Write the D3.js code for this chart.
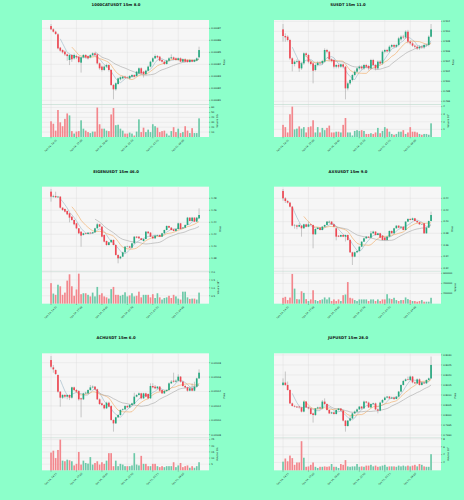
<!DOCTYPE html>
<html>
<head>
<meta charset="utf-8">
<script src="https://cdn.jsdelivr.net/npm/d3@7"></script>
<style>
  body { margin: 0; background: #8cffca; }
  svg { display: block; font-family: "DejaVu Sans", sans-serif; }
</style>
</head>
<body>
<script>
// ---- data ----
var titles = ["1000CATUSDT 15m 8.0", "SUSDT 15m 11.0", "EIGENUSDT 15m 46.0",
              "AXSUSDT 15m 9.0", "ACHUSDT 15m 6.0", "JUPUSDT 15m 28.0"];
var xTickIndex = [0, 11, 22, 33, 44, 55];
var xTickLabels = ["Feb 14, 14:15", "Feb 14, 17:00", "Feb 14, 19:45",
                   "Feb 14, 22:30", "Feb 15, 01:15", "Feb 15, 04:00"];
var maWindows = [5, 10, 20];

// candles are [open, high, low, close]
var catCandles = [
  [0.0008719,0.0008736,0.0008685,0.0008692],[0.0008692,0.00087,0.0008665,0.0008672],[0.0008672,0.000868,0.0008645,0.0008653],
  [0.000865,0.000866,0.0008525,0.0008533],[0.0008539,0.0008545,0.0008505,0.0008514],[0.0008519,0.0008525,0.000849,0.00085],
  [0.0008506,0.0008515,0.000847,0.0008483],[0.0008483,0.000849,0.000843,0.0008469],[0.0008436,0.0008485,0.0008394,0.0008478],
  [0.0008478,0.0008485,0.000842,0.0008442],[0.000845,0.000849,0.000844,0.0008478],[0.0008469,0.000848,0.0008445,0.0008458],
  [0.0008464,0.000847,0.000841,0.0008419],[0.0008414,0.0008465,0.0008331,0.0008458],[0.0008458,0.0008485,0.000845,0.0008478],
  [0.0008478,0.0008485,0.000845,0.0008458],[0.0008469,0.0008475,0.000844,0.000845],[0.0008458,0.0008485,0.000845,0.0008478],
  [0.0008478,0.00085,0.000847,0.0008492],[0.0008492,0.00085,0.000847,0.0008478],[0.0008483,0.000849,0.00084,0.0008408],
  [0.0008408,0.0008415,0.0008355,0.0008367],[0.0008381,0.000839,0.000834,0.0008353],[0.0008353,0.000839,0.0008345,0.0008381],
  [0.0008381,0.0008405,0.000837,0.0008394],[0.0008394,0.00084,0.000834,0.0008353],[0.0008353,0.000836,0.000822,0.0008228],
  [0.0008228,0.0008235,0.0008108,0.0008192],[0.0008192,0.000825,0.000818,0.0008242],[0.0008236,0.000829,0.000823,0.0008283],
  [0.0008275,0.00083,0.0008265,0.0008292],[0.0008283,0.0008305,0.0008275,0.0008297],[0.0008297,0.0008305,0.000828,0.0008289],
  [0.0008292,0.00083,0.000828,0.0008289],[0.0008283,0.000831,0.0008275,0.0008303],[0.0008297,0.000832,0.000829,0.0008311],
  [0.0008311,0.0008318,0.000829,0.0008297],[0.0008303,0.0008345,0.0008295,0.0008339],[0.0008325,0.0008375,0.000832,0.0008367],
  [0.0008367,0.0008375,0.000832,0.0008325],[0.0008339,0.0008345,0.000829,0.0008319],[0.0008319,0.0008355,0.000831,0.0008347],
  [0.0008347,0.000839,0.000834,0.0008381],[0.0008381,0.000843,0.0008375,0.0008422],[0.0008422,0.000846,0.0008415,0.000845],
  [0.000845,0.0008483,0.0008445,0.0008469],[0.0008469,0.0008478,0.000845,0.0008458],[0.0008464,0.000847,0.0008425,0.0008431],
  [0.0008436,0.0008442,0.0008415,0.0008422],[0.0008422,0.000843,0.0008395,0.0008403],[0.0008403,0.0008438,0.0008398,0.0008431],
  [0.0008431,0.000846,0.0008425,0.000845],[0.000845,0.0008483,0.0008445,0.0008458],[0.0008458,0.0008465,0.0008435,0.0008442],
  [0.000845,0.0008458,0.000843,0.0008436],[0.0008436,0.0008458,0.000843,0.000845],[0.000845,0.0008458,0.0008418,0.0008422],
  [0.0008422,0.000845,0.0008418,0.0008442],[0.0008442,0.000845,0.0008418,0.0008422],[0.0008436,0.0008442,0.0008414,0.0008419],
  [0.0008419,0.0008445,0.0008414,0.0008436],[0.0008436,0.0008442,0.0008418,0.0008422],[0.0008422,0.0008442,0.0008418,0.0008436],
  [0.0008431,0.0008458,0.0008425,0.000845],[0.0008458,0.0008547,0.0008455,0.0008519]
];
var catVolume = [32,27,13,55,30,22,37,48,44,12,7,11,12,34,17,13,10,8,11,11,60,26,17,17,13,12,46,59,24,25,
  17,13,7,7,9,7,3,11,36,10,19,10,15,10,26,22,19,10,12,13,7,3,12,20,10,17,8,10,22,13,8,18,8,8,38]; // x 10^6
var catPriceRange = [0.00080653, 0.00087694];
var catPriceTicks = [0.00081, 0.00082, 0.00083, 0.00084, 0.00085, 0.00086, 0.00087];
var catVolRange = [0, 65];
var catVolTicks = [10, 20, 30, 40, 50, 60];

var sCandles = [
  [0.5104,0.51147,0.50793,0.50907],[0.50907,0.5096,0.50793,0.5088],[0.50893,0.5092,0.508,0.50827],[0.50827,0.5085,0.5043,0.5046],
  [0.5046,0.5048,0.502,0.50347],[0.50347,0.5042,0.503,0.50393],[0.50393,0.5044,0.5036,0.50407],[0.50407,0.5043,0.5019,0.5026],
  [0.5026,0.5039,0.5023,0.5036],[0.5036,0.5058,0.5033,0.5056],[0.5056,0.5058,0.5049,0.50527],[0.50527,0.5055,0.5036,0.50393],
  [0.50393,0.5042,0.5032,0.50347],[0.5036,0.5038,0.4996,0.50213],[0.50227,0.5035,0.502,0.50327],[0.50327,0.504,0.503,0.50373],
  [0.50373,0.504,0.5033,0.5036],[0.5036,0.5043,0.5033,0.50407],[0.50393,0.5066,0.5037,0.50627],[0.50627,0.5065,0.5056,0.50593],
  [0.50593,0.5061,0.5041,0.5044],[0.5044,0.5046,0.5038,0.50407],[0.50427,0.5045,0.5026,0.50293],[0.50293,0.5035,0.5026,0.50327],
  [0.50327,0.5035,0.5026,0.50293],[0.50293,0.5036,0.5027,0.5034],[0.5034,0.5036,0.5026,0.50293],[0.50293,0.5031,0.4964,0.4986],
  [0.4986,0.4999,0.4982,0.4996],[0.4996,0.5005,0.4993,0.50027],[0.50027,0.5015,0.5,0.50127],[0.50127,0.5022,0.501,0.50193],
  [0.50193,0.5028,0.5017,0.5026],[0.5026,0.5032,0.5023,0.50293],[0.50293,0.5032,0.5023,0.5026],[0.5026,0.5035,0.5023,0.50327],
  [0.50327,0.5035,0.5026,0.50293],[0.50307,0.5033,0.5022,0.5026],[0.5026,0.5045,0.5023,0.50427],[0.50427,0.5045,0.503,0.50327],
  [0.50327,0.5035,0.5022,0.5026],[0.5026,0.5042,0.5023,0.50393],[0.50393,0.5042,0.5033,0.5036],[0.5036,0.5062,0.5033,0.50593],
  [0.50593,0.5065,0.5056,0.50627],[0.50627,0.5065,0.5057,0.506],[0.506,0.5072,0.5058,0.50693],[0.50693,0.5075,0.5067,0.50727],
  [0.50727,0.5075,0.5067,0.50693],[0.50693,0.5075,0.5067,0.50727],[0.50727,0.5089,0.507,0.5086],[0.5084,0.5092,0.5081,0.50893],
  [0.50893,0.5093,0.5085,0.5088],[0.5088,0.5102,0.5085,0.50993],[0.50993,0.5103,0.5076,0.50793],[0.50793,0.5082,0.5073,0.5076],
  [0.5076,0.5079,0.5069,0.50713],[0.50713,0.5074,0.5066,0.50693],[0.50693,0.5072,0.5063,0.5066],[0.5066,0.5072,0.5063,0.50693],
  [0.50693,0.5072,0.5065,0.5068],[0.5068,0.5075,0.5065,0.50727],[0.50727,0.5075,0.507,0.50727],[0.50727,0.5092,0.507,0.50893],
  [0.50893,0.51147,0.5088,0.5104]
];
var sVolume = [1.6,1.3,0.6,3.0,4.0,1.0,1.1,1.4,1.1,1.3,0.6,1.3,1.4,2.2,0.6,1.3,0.6,1.2,0.9,1.2,
  1.5,0.6,0.6,0.7,0.7,0.6,1.6,2.5,0.6,0.6,0.2,0.8,0.9,0.8,0.9,0.8,0.4,0.4,0.5,0.4,
  0.6,1.2,0.5,0.8,1.3,1.1,0.7,0.4,0.3,0.4,0.7,0.7,0.9,0.4,0.6,1.3,0.7,0.7,0.6,0.4,0.3,0.4,0.4,0.3,1.8]; // x 10^5
var sPriceRange = [0.49537, 0.51227];
var sPriceTicks = [0.496, 0.498, 0.5, 0.502, 0.504, 0.506, 0.508, 0.51, 0.512];
var sVolRange = [0, 4.2];
var sVolTicks = [1, 2, 3, 4];

var eigenCandles = [
  [1.4911,1.4956,1.4744,1.4828],[1.4828,1.486,1.481,1.4839],[1.4839,1.491,1.4805,1.4817],[1.4817,1.484,1.4805,1.4828],
  [1.4828,1.4835,1.463,1.4644],[1.4644,1.465,1.459,1.4606],[1.4622,1.463,1.4565,1.4578],[1.4589,1.4595,1.452,1.4533],
  [1.455,1.456,1.44,1.4478],[1.4494,1.45,1.4425,1.4439],[1.4439,1.4445,1.435,1.4367],[1.4383,1.439,1.4285,1.43],
  [1.43,1.4305,1.4205,1.4217],[1.4244,1.425,1.3994,1.4178],[1.4189,1.4225,1.418,1.4217],[1.4217,1.4225,1.4198,1.4206],
  [1.4206,1.4235,1.42,1.4228],[1.4228,1.4235,1.421,1.4217],[1.4217,1.424,1.421,1.4233],[1.4233,1.431,1.4225,1.43],
  [1.43,1.439,1.4295,1.4367],[1.4367,1.4375,1.432,1.4328],[1.4328,1.4335,1.415,1.4161],[1.4189,1.4195,1.4065,1.4078],
  [1.4089,1.4095,1.401,1.4022],[1.4022,1.4075,1.4015,1.4067],[1.4067,1.4115,1.406,1.4106],[1.4106,1.4115,1.4015,1.4022],
  [1.4022,1.403,1.3845,1.3856],[1.3856,1.3865,1.3717,1.38],[1.38,1.384,1.3785,1.3828],[1.3828,1.391,1.382,1.39],
  [1.39,1.4005,1.3895,1.3994],[1.3994,1.401,1.3985,1.3998],[1.3998,1.401,1.397,1.3978],[1.3978,1.406,1.397,1.405],
  [1.405,1.417,1.4045,1.4161],[1.4161,1.417,1.4135,1.4144],[1.4161,1.417,1.4125,1.4133],[1.4133,1.414,1.41,1.4106],
  [1.4089,1.413,1.408,1.4122],[1.4122,1.4255,1.4115,1.4244],[1.4244,1.4255,1.421,1.4217],[1.4228,1.4235,1.4155,1.4161],
  [1.4161,1.417,1.4125,1.4133],[1.4133,1.4185,1.4125,1.4178],[1.4178,1.4195,1.417,1.4189],[1.4189,1.4195,1.4155,1.4161],
  [1.4161,1.4225,1.4155,1.4217],[1.4217,1.428,1.421,1.4272],[1.4272,1.435,1.4265,1.4339],[1.4339,1.4345,1.4305,1.4311],
  [1.4311,1.432,1.4265,1.4272],[1.4283,1.429,1.425,1.4256],[1.4256,1.4295,1.425,1.4289],[1.4289,1.4395,1.428,1.4383],
  [1.4383,1.439,1.428,1.4289],[1.43,1.432,1.4295,1.4311],[1.4311,1.4365,1.4305,1.4356],[1.4356,1.449,1.435,1.4478],
  [1.4478,1.4485,1.4415,1.4422],[1.4422,1.449,1.4415,1.4478],[1.4478,1.4485,1.4405,1.4411],[1.4411,1.449,1.4405,1.4478],
  [1.4467,1.4633,1.446,1.4522]
];
var eigenVolume = [1.3,0.64,0.56,1.2,1.1,0.56,0.7,1.46,1.86,1.1,0.5,0.9,1.9,0.6,0.66,0.66,0.56,0.46,0.7,0.46,
  1.06,0.56,0.66,0.46,0.4,0.32,0.92,1.06,0.56,0.56,0.5,0.56,0.72,0.46,0.52,0.66,0.46,0.5,0.76,0.4,
  0.56,0.56,0.56,0.4,0.6,0.36,0.66,0.4,0.26,0.36,0.4,0.5,0.36,0.56,0.46,0.32,0.26,0.76,0.76,0.4,0.3,0.32,0.32,0.26,0.7]; // x 10^6
var eigenPriceRange = [1.3586, 1.4994];
var eigenPriceTicks = [1.38, 1.40, 1.42, 1.44, 1.46, 1.48];
var eigenVolRange = [0, 2.02];
var eigenVolTicks = [0.5, 1.0, 1.5, 2.0];

var axsCandles = [
  [3.4526,3.456,3.436,3.44],[3.44,3.442,3.432,3.4354],[3.4354,3.437,3.431,3.4326],[3.4326,3.434,3.4245,3.4257],
  [3.4257,3.427,3.392,3.3931],[3.3931,3.396,3.388,3.3936],[3.3936,3.395,3.387,3.3914],[3.3914,3.3975,3.3905,3.3943],
  [3.3931,3.394,3.3743,3.3886],[3.3886,3.3965,3.388,3.3954],[3.3954,3.3965,3.3905,3.3914],[3.3914,3.4,3.3905,3.3954],
  [3.3954,3.396,3.3935,3.3943],[3.3943,3.395,3.3543,3.3783],[3.3783,3.3885,3.3775,3.3874],[3.3874,3.3905,3.3865,3.3897],
  [3.3897,3.3905,3.385,3.3857],[3.3857,3.3925,3.385,3.3914],[3.3914,3.395,3.3905,3.3943],[3.3943,3.401,3.3935,3.4],
  [3.3989,3.402,3.398,3.4],[3.4,3.401,3.3945,3.3954],[3.3954,3.3965,3.3905,3.3914],[3.3886,3.3895,3.368,3.3743],
  [3.376,3.377,3.3735,3.3743],[3.3743,3.378,3.3735,3.3771],[3.3771,3.378,3.3735,3.3743],[3.3743,3.378,3.366,3.3771],
  [3.3771,3.378,3.3675,3.3686],[3.3686,3.3695,3.3465,3.3474],[3.3474,3.3485,3.3257,3.34],[3.34,3.3485,3.339,3.3474],
  [3.3474,3.3505,3.346,3.3497],[3.3497,3.358,3.349,3.3571],[3.3571,3.3665,3.3565,3.3657],[3.3657,3.3725,3.365,3.3714],
  [3.3714,3.375,3.3705,3.3743],[3.3743,3.375,3.372,3.3726],[3.3726,3.384,3.372,3.38],[3.38,3.3845,3.379,3.3829],
  [3.3829,3.3835,3.3765,3.3771],[3.3771,3.381,3.3765,3.38],[3.38,3.381,3.3715,3.3726],[3.376,3.377,3.3675,3.3686],
  [3.3726,3.3735,3.3675,3.3686],[3.3686,3.375,3.3675,3.3743],[3.3743,3.385,3.3735,3.384],[3.384,3.385,3.3795,3.38],
  [3.38,3.3895,3.3795,3.3886],[3.3886,3.394,3.388,3.3931],[3.3931,3.394,3.389,3.3897],[3.3897,3.3925,3.389,3.3914],
  [3.3914,3.3925,3.385,3.3857],[3.3857,3.401,3.385,3.4],[3.4,3.406,3.3995,3.4046],[3.4046,3.406,3.4023,3.4029],
  [3.4029,3.407,3.4023,3.4057],[3.4057,3.4065,3.4005,3.4011],[3.4011,3.402,3.3983,3.3989],[3.3989,3.3995,3.3948,3.3954],
  [3.3954,3.3965,3.3945,3.3954],[3.3971,3.398,3.379,3.38],[3.38,3.3905,3.3795,3.3897],[3.3897,3.402,3.389,3.4011],
  [3.4011,3.4171,3.4005,3.4114]
];
var axsVolume = [116000,135000,71000,120000,587000,297000,90000,84000,245000,213000,90000,52000,84000,265000,71000,
  52000,71000,84000,123000,84000,123000,52000,84000,52000,84000,52000,168000,181000,426000,116000,103000,71000,52000,
  84000,84000,84000,84000,52000,84000,84000,52000,84000,52000,84000,84000,187000,103000,90000,116000,71000,52000,71000,
  71000,123000,90000,71000,52000,52000,39000,52000,71000,39000,39000,39000,116000];
var axsPriceRange = [3.3151, 3.4600];
var axsPriceTicks = [3.32, 3.34, 3.36, 3.38, 3.40, 3.42, 3.44];
var axsVolRange = [0, 630000];
var axsVolTicks = [200000, 400000, 600000];

var achCandles = [
  [0.0201837,0.0201893,0.0201721,0.0201744],[0.0201735,0.0201768,0.0201661,0.0201707],[0.0201698,0.0201707,0.0201629,0.0201643],
  [0.0201629,0.0201638,0.0201383,0.0201397],[0.0201397,0.0201406,0.0201189,0.0201314],[0.0201314,0.0201365,0.0201295,0.0201351],
  [0.0201351,0.0201365,0.0201305,0.0201328],[0.0201328,0.020136,0.0201291,0.0201351],[0.0201351,0.020136,0.0201281,0.0201314],
  [0.0201314,0.0201467,0.02013,0.0201457],[0.0201457,0.0201467,0.0201406,0.020142],[0.020142,0.0201434,0.0201383,0.0201397],
  [0.0201406,0.020142,0.0201272,0.0201291],[0.0201305,0.0201314,0.0201041,0.0201291],[0.0201291,0.0201383,0.0201281,0.0201374],
  [0.0201374,0.0201397,0.0201365,0.0201383],[0.0201374,0.020143,0.0201365,0.020142],[0.020142,0.020149,0.0201411,0.0201457],
  [0.0201457,0.0201485,0.0201444,0.0201467],[0.0201467,0.0201476,0.020142,0.020143],[0.020143,0.0201439,0.0201281,0.0201291],
  [0.0201291,0.0201305,0.0201212,0.0201226],[0.0201235,0.0201244,0.0201198,0.0201212],[0.0201212,0.0201226,0.0201152,0.0201166],
  [0.0201166,0.0201258,0.0201156,0.0201244],[0.0201244,0.0201258,0.020118,0.0201189],[0.0201198,0.0201212,0.0200994,0.0201004],
  [0.0201004,0.0201013,0.0200842,0.0200957],[0.0200957,0.020105,0.0200948,0.0201041],[0.0201041,0.0201087,0.0201031,0.0201073],
  [0.0201073,0.0201152,0.0201064,0.0201143],[0.0201143,0.0201166,0.0201133,0.0201152],[0.0201152,0.0201212,0.0201143,0.0201198],
  [0.0201198,0.0201212,0.020117,0.020118],[0.020118,0.0201226,0.020117,0.0201212],[0.0201212,0.0201244,0.0201198,0.0201235],
  [0.0201226,0.0201383,0.0201217,0.0201328],[0.0201328,0.0201365,0.0201319,0.0201351],[0.0201351,0.0201388,0.0201342,0.0201374],
  [0.0201374,0.0201383,0.0201291,0.0201305],[0.0201305,0.0201383,0.0201295,0.0201374],[0.0201374,0.0201383,0.0201319,0.0201328],
  [0.0201365,0.0201374,0.0201291,0.0201305],[0.0201305,0.0201513,0.0201295,0.0201476],[0.0201476,0.0201513,0.0201444,0.0201457],
  [0.0201467,0.020149,0.020143,0.0201444],[0.0201444,0.0201476,0.020143,0.0201467],[0.0201467,0.0201476,0.0201397,0.0201411],
  [0.020142,0.020143,0.0201365,0.0201374],[0.0201374,0.020142,0.0201365,0.0201406],[0.0201406,0.020143,0.0201397,0.020142],
  [0.020142,0.0201527,0.0201411,0.0201513],[0.0201513,0.0201559,0.0201504,0.0201536],[0.020155,0.0201661,0.0201522,0.0201536],
  [0.0201536,0.0201569,0.0201522,0.020155],[0.020155,0.0201638,0.0201541,0.0201606],[0.0201606,0.0201615,0.0201522,0.0201536],
  [0.0201536,0.020155,0.0201467,0.0201476],[0.0201476,0.020149,0.0201444,0.0201457],[0.0201457,0.0201467,0.0201397,0.0201411],
  [0.0201411,0.0201457,0.0201402,0.0201444],[0.0201444,0.0201513,0.0201402,0.0201411],[0.0201411,0.0201536,0.0201402,0.0201467],
  [0.0201467,0.0201592,0.0201457,0.0201582],[0.0201582,0.0201707,0.0201573,0.0201661]
];
var achVolume = [14.5,16,10,16.6,25,7.9,7.4,8.7,8.2,7.4,4,5.3,15,4.7,7.9,6,5.5,10.8,4.7,6,
  7.4,4.7,6.6,5.3,7.9,14,14,3.4,7.9,3.4,5.3,4.7,3.4,3.4,3.4,4,14,4.7,4,11.8,
  5.3,5.3,3.4,3.4,5.3,5.3,3.4,2.6,3.4,2.6,3.4,3.4,3.4,6.6,2.6,4,6,2.6,3.4,4,2.1,3.4,2.1,3.4,6.6]; // x 10^6
var achPriceRange = [0.0200756, 0.020193];
var achPriceTicks = [0.02008, 0.0201, 0.02012, 0.02014, 0.02016, 0.02018];
var achVolRange = [0, 26];
var achVolTicks = [5, 10, 15, 20, 25];

var jupCandles = [
  [0.8015,0.80183,0.80145,0.80162],[0.80162,0.80217,0.80145,0.8015],[0.8015,0.80167,0.80122,0.80125],[0.80125,0.80128,0.80055,0.80058],
  [0.80058,0.80062,0.80042,0.80045],[0.80045,0.8005,0.80038,0.80042],[0.80042,0.80045,0.80035,0.80038],[0.80042,0.80045,0.80032,0.80038],
  [0.80038,0.80042,0.80013,0.80017],[0.80017,0.8007,0.80013,0.80067],[0.80067,0.8007,0.80035,0.80038],[0.80038,0.80042,0.80028,0.80033],
  [0.80033,0.80038,0.80002,0.80005],[0.80008,0.80012,0.79962,0.8],[0.8,0.80035,0.79995,0.80033],[0.80033,0.80042,0.80028,0.80038],
  [0.80038,0.80042,0.80028,0.80033],[0.80033,0.80075,0.80028,0.80067],[0.80067,0.80083,0.8005,0.80055],[0.80055,0.80058,0.80022,0.80025],
  [0.80025,0.80028,0.80005,0.80008],[0.80008,0.80017,0.80005,0.80013],[0.80013,0.80017,0.80002,0.80005],[0.80005,0.80028,0.80002,0.80025],
  [0.80025,0.80035,0.80022,0.80032],[0.80032,0.80035,0.80018,0.80022],[0.80022,0.80025,0.79968,0.79972],[0.79972,0.79975,0.79917,0.79945],
  [0.79945,0.79975,0.79942,0.79972],[0.79972,0.79995,0.79968,0.79983],[0.79983,0.80012,0.7998,0.80008],[0.80008,0.80022,0.80005,0.80017],
  [0.80017,0.80033,0.80013,0.80028],[0.80028,0.80045,0.80025,0.80042],[0.80042,0.80045,0.80028,0.80033],[0.80033,0.80072,0.80032,0.80067],
  [0.80067,0.8007,0.80058,0.80062],[0.80062,0.80067,0.80035,0.80038],[0.80038,0.80058,0.80035,0.80055],[0.80055,0.80062,0.8005,0.80058],
  [0.80058,0.80062,0.80025,0.80028],[0.80028,0.80033,0.80008,0.80022],[0.80022,0.80067,0.80018,0.80062],[0.80062,0.8008,0.80058,0.80075],
  [0.80075,0.80092,0.80072,0.80087],[0.80087,0.80095,0.80083,0.80092],[0.80092,0.80095,0.8008,0.80083],[0.80083,0.80092,0.8008,0.80087],
  [0.80087,0.80092,0.80075,0.8008],[0.8008,0.80095,0.80078,0.80092],[0.80092,0.8012,0.80088,0.80117],[0.80117,0.80153,0.80113,0.8015],
  [0.8015,0.80175,0.80147,0.8017],[0.8017,0.80183,0.80167,0.80178],[0.80178,0.80192,0.80172,0.80175],[0.80175,0.80197,0.80172,0.80192],
  [0.80192,0.80195,0.80158,0.80163],[0.80163,0.80167,0.80155,0.80158],[0.80158,0.80183,0.80155,0.80178],[0.80178,0.80183,0.80147,0.8015],
  [0.8015,0.80167,0.80147,0.80162],[0.80162,0.80167,0.80155,0.80158],[0.80158,0.80178,0.80155,0.80175],[0.80175,0.80187,0.80172,0.80183],
  [0.80183,0.80292,0.8018,0.8025]
];
var jupVolume = [2.2,3.0,2.3,3.75,3.1,1.4,2.0,2.0,7.4,3.2,0.9,1.0,1.4,2.0,0.9,0.6,0.9,0.9,1.0,0.9,
  1.0,1.6,0.9,0.9,0.6,1.6,1.4,2.6,1.0,0.9,1.0,1.0,1.6,0.9,1.0,0.9,1.2,1.2,1.4,1.0,
  1.2,0.9,1.0,1.2,1.4,0.9,1.0,1.0,1.0,0.9,1.2,1.0,1.2,1.0,1.2,1.0,1.2,1.4,1.0,1.6,1.4,1.0,0.9,0.9,4.1]; // x 10^5
var jupPriceRange = [0.79886, 0.80308];
var jupPriceTicks = [0.799, 0.7995, 0.8, 0.8005, 0.801, 0.8015, 0.802, 0.8025, 0.803];
var jupVolRange = [0, 8.1];
var jupVolTicks = [2, 4, 6, 8];

// one entry per subplot, built from the arrays above
var panels = [
  {title: titles[0], candles: catCandles, volume: catVolume, priceRange: catPriceRange, priceTicks: catPriceTicks, priceFmt: ".5f", volRange: catVolRange, volTicks: catVolTicks, volFmt: "d", volExp: "6"},
  {title: titles[1], candles: sCandles, volume: sVolume, priceRange: sPriceRange, priceTicks: sPriceTicks, priceFmt: ".3f", volRange: sVolRange, volTicks: sVolTicks, volFmt: "d", volExp: "5"},
  {title: titles[2], candles: eigenCandles, volume: eigenVolume, priceRange: eigenPriceRange, priceTicks: eigenPriceTicks, priceFmt: ".2f", volRange: eigenVolRange, volTicks: eigenVolTicks, volFmt: ".1f", volExp: "6"},
  {title: titles[3], candles: axsCandles, volume: axsVolume, priceRange: axsPriceRange, priceTicks: axsPriceTicks, priceFmt: ".2f", volRange: axsVolRange, volTicks: axsVolTicks, volFmt: "d", volExp: null},
  {title: titles[4], candles: achCandles, volume: achVolume, priceRange: achPriceRange, priceTicks: achPriceTicks, priceFmt: ".5f", volRange: achVolRange, volTicks: achVolTicks, volFmt: "d", volExp: "6"},
  {title: titles[5], candles: jupCandles, volume: jupVolume, priceRange: jupPriceRange, priceTicks: jupPriceTicks, priceFmt: ".4f", volRange: jupVolRange, volTicks: jupVolTicks, volFmt: "d", volExp: "5"}
];

// ---- drawing ----
var width = 464;
var height = 500;
var cellW = 232;
var cellH = height / 3;
var upColor = "#26a87f", downColor = "#ef4752";
var upVol = "#6cc9a8", downVol = "#f3868c";
var maColors = ["#98b6c6", "#f2a85e", "#a6a6a6"];
var tickFont = 2.4;

var svg = d3.select("body").append("svg")
    .attr("width", width)
    .attr("height", height);

svg.append("rect").attr("width", width).attr("height", height).attr("fill", "#8cffca");

function sma(closes, w) {
  var out = [];
  for (var i = w - 1; i < closes.length; i++) {
    out.push([i, d3.mean(closes.slice(i - w + 1, i + 1))]);
  }
  return out;
}

panels.forEach(function (p, k) {
  var col = k % 2, row = Math.floor(k / 2);
  var g = svg.append("g").attr("transform", "translate(" + (col * cellW) + "," + (row * cellH) + ")");

  var left = 42, right = 209, top = 20, mid = 104.5, bottom = 137;
  var n = p.candles.length;
  var x = d3.scaleLinear().domain([-3.9, n - 1 + 4.3]).range([left, right]);
  var y = d3.scaleLinear().domain(p.priceRange).range([mid, top]);
  var yv = d3.scaleLinear().domain(p.volRange).range([bottom, mid + 0.6]);
  var step = x(1) - x(0);
  var bw = step * 0.72;

  // title
  g.append("text")
    .attr("x", 116).attr("y", 6)
    .attr("text-anchor", "middle")
    .attr("font-size", 3.8).attr("font-weight", "bold").attr("fill", "#111")
    .text(p.title);

  // plot backgrounds
  g.append("rect").attr("x", left).attr("y", top).attr("width", right - left).attr("height", mid - top).attr("fill", "#f6f6f6");
  g.append("rect").attr("x", left).attr("y", mid).attr("width", right - left).attr("height", bottom - mid).attr("fill", "#f6f6f6");

  // grid
  var grid = g.append("g").attr("stroke", "#e0e0e0").attr("stroke-width", 0.45);
  p.priceTicks.forEach(function (t) {
    grid.append("line").attr("x1", left).attr("x2", right).attr("y1", y(t)).attr("y2", y(t));
  });
  p.volTicks.forEach(function (t) {
    grid.append("line").attr("x1", left).attr("x2", right).attr("y1", yv(t)).attr("y2", yv(t));
  });
  xTickIndex.forEach(function (t) {
    grid.append("line").attr("x1", x(t)).attr("x2", x(t)).attr("y1", top).attr("y2", bottom);
  });
  g.append("line").attr("x1", left).attr("x2", right).attr("y1", mid).attr("y2", mid)
    .attr("stroke", "#c8c8c8").attr("stroke-width", 0.4);

  // volume bars
  g.append("g").selectAll("rect")
    .data(p.volume)
    .join("rect")
    .attr("x", function (d, i) { return x(i) - bw / 2; })
    .attr("y", function (d) { return yv(d); })
    .attr("width", bw)
    .attr("height", function (d) { return bottom - yv(d); })
    .attr("fill", function (d, i) { return p.candles[i][3] >= p.candles[i][0] ? upVol : downVol; });

  // moving averages
  var closes = p.candles.map(function (c) { return c[3]; });
  var line = d3.line().x(function (d) { return x(d[0]); }).y(function (d) { return y(d[1]); });
  maWindows.forEach(function (w, j) {
    g.append("path")
      .attr("d", line(sma(closes, w)))
      .attr("fill", "none")
      .attr("stroke", maColors[j])
      .attr("stroke-width", 0.6);
  });

  // candles: wick then body
  var cg = g.append("g");
  cg.selectAll("line")
    .data(p.candles)
    .join("line")
    .attr("x1", function (d, i) { return x(i); })
    .attr("x2", function (d, i) { return x(i); })
    .attr("y1", function (d) { return y(d[1]); })
    .attr("y2", function (d) { return y(d[2]); })
    .attr("stroke", "#8c8c8c")
    .attr("stroke-width", 0.45);
  cg.selectAll("rect")
    .data(p.candles)
    .join("rect")
    .attr("x", function (d, i) { return x(i) - bw / 2; })
    .attr("y", function (d) { return y(Math.max(d[0], d[3])); })
    .attr("width", bw)
    .attr("height", function (d) { return Math.max(0.35, Math.abs(y(d[0]) - y(d[3]))); })
    .attr("fill", function (d) { return d[3] >= d[0] ? upColor : downColor; });

  // right axes
  var axisG = g.append("g").attr("font-size", tickFont).attr("fill", "#222");
  var fmtP = d3.format(p.priceFmt), fmtV = d3.format(p.volFmt);
  function rightTicks(ticks, scale, fmt) {
    var tg = axisG.append("g");
    ticks.forEach(function (t) {
      tg.append("line").attr("x1", right).attr("x2", right + 1.3).attr("y1", scale(t)).attr("y2", scale(t))
        .attr("stroke", "#333").attr("stroke-width", 0.3);
      tg.append("text").attr("x", right + 2.2).attr("y", scale(t)).attr("dy", "0.35em").text(fmt(t));
    });
    return tg.node().getBBox().width;
  }
  var wP = rightTicks(p.priceTicks, y, fmtP);
  var wV = rightTicks(p.volTicks, yv, fmtV);

  var px = right + wP + 3.6;
  axisG.append("text")
    .attr("transform", "translate(" + px + "," + ((top + mid) / 2) + ") rotate(-90)")
    .attr("text-anchor", "middle")
    .text("Price");
  var vx = right + wV + 3.6;
  var vt = axisG.append("text")
    .attr("transform", "translate(" + vx + "," + ((mid + bottom) / 2) + ") rotate(-90)")
    .attr("text-anchor", "middle")
    .text("Volume");
  if (p.volExp) {
    vt.append("tspan").text("  10");
    vt.append("tspan").attr("dy", -0.8).attr("font-size", tickFont * 0.7).text(p.volExp);
  }

  // x axis: ticks and rotated date labels
  xTickIndex.forEach(function (t, j) {
    g.append("line").attr("x1", x(t)).attr("x2", x(t)).attr("y1", bottom).attr("y2", bottom + 1.3)
      .attr("stroke", "#333").attr("stroke-width", 0.3);
    var lab = g.append("text")
      .attr("font-size", tickFont)
      .attr("fill", "#222")
      .attr("text-anchor", "middle")
      .attr("dominant-baseline", "central")
      .text(xTickLabels[j]);
    var len = lab.node().getComputedTextLength();
    var half = (len + tickFont) * Math.SQRT1_2 / 2;
    lab.attr("transform", "translate(" + x(t) + "," + (bottom + 2.2 + half) + ") rotate(-45)");
  });
});
</script>
</body>
</html>
